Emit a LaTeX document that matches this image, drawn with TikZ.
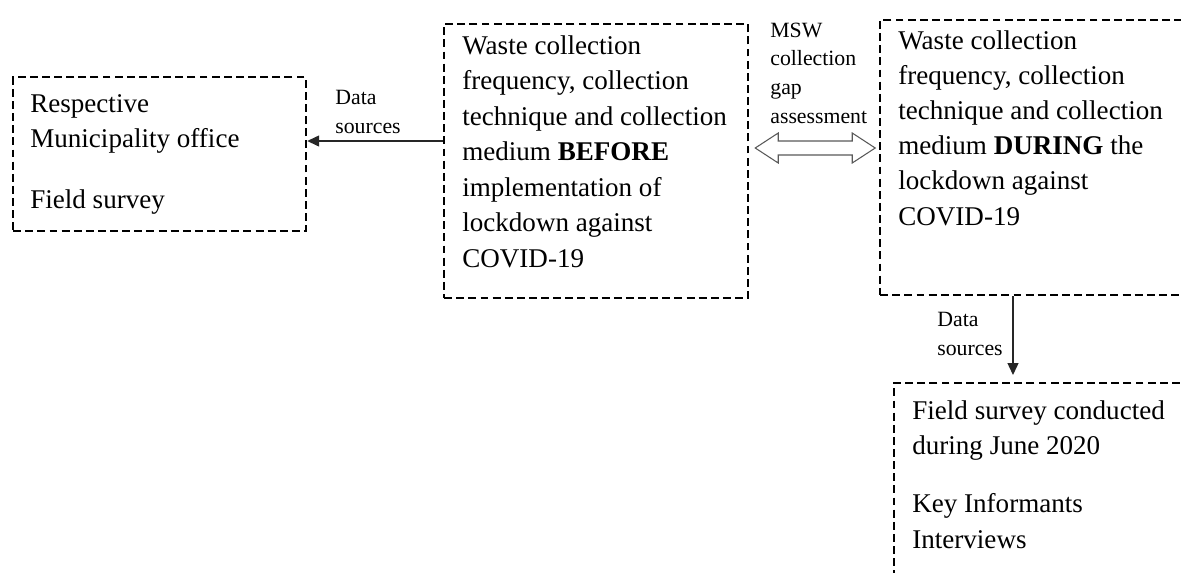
\documentclass[tikz,border=0pt]{standalone}
\usepackage{fontspec}
\setmainfont{Liberation Serif}
\usetikzlibrary{arrows.meta,calc}

\tikzset{
  box/.style={draw, line width=1.3pt, dash pattern=on 4.5pt off 2.4pt, anchor=north west, inner sep=0pt},
  txt/.style={anchor=base west, align=left, inner sep=0pt, font=\fontsize{15.4}{20}\selectfont},
  note/.style={anchor=base west, align=left, inner sep=0pt, font=\fontsize{12.4}{16.3}\selectfont},
  arr/.style={-{Triangle[length=0.24cm,width=0.22cm]}, line width=0.8pt, black!85},
  hollow/.style={draw=black!65, line width=0.6pt, fill=white},
}

\begin{document}
\begin{tikzpicture}[x=0.02cm,y=-0.02cm]
  \useasboundingbox (0,0) rectangle (1181,572);
  % boxes
  \node[box, minimum width=5.86cm, minimum height=3.08cm] (src) at (12,76) {};
  \node[box, minimum width=6.08cm, minimum height=5.48cm] (before) at (443,23) {};
  \node[box, minimum width=6.82cm, minimum height=5.5cm] (during) at (879,19) {};
  \node[box, minimum width=6.54cm, minimum height=4.76cm] (survey) at (893,382) {};
  % box texts (placed by the baseline of their last line)
  \node[txt] (srctext) at (30,208) {Respective\\Municipality office\\[0.5cm]Field survey};
  \node[txt, font=\fontsize{15.4}{20.2}\selectfont] (beforetext) at (462,267) {Waste collection\\frequency, collection\\technique and collection\\medium \textbf{BEFORE}\\implementation of\\lockdown against\\COVID-19};
  \node[txt] (duringtext) at (898,225) {Waste collection\\frequency, collection\\technique and collection\\medium \textbf{DURING} the\\lockdown against\\COVID-19};
  \node[txt] (surveytext) at (912,548) {Field survey conducted\\during June 2020\\[0.46cm]Key Informants\\Interviews};
  % connectors
  \coordinate (ysrc) at (0,141);
  \coordinate (ygap) at (0,148);
  \coordinate (xdown) at (1013,0);
  \draw[arr] (before.west |- ysrc) -- (src.east |- ysrc);
  \draw[arr, shorten >=0.14cm] (during.south -| xdown) -- (survey.north -| xdown);
  \coordinate (gl) at ($(before.east |- ygap)+(6,0)$);
  \draw[hollow] (gl) -- ++(23,-15) -- ++(0,8) -- ++(74,0) -- ++(0,-8) -- ++(23,15)
    -- ++(-23,15) -- ++(0,-8) -- ++(-74,0) -- ++(0,8) -- cycle;
  % labels
  \node[note] (srclabel) at (335,133) {Data\\sources};
  \node[note] (gaplabel) at (770,123) {MSW\\collection\\gap\\assessment};
  \node[note] (surveylabel) at (937,355) {Data\\sources};
\end{tikzpicture}
\end{document}
